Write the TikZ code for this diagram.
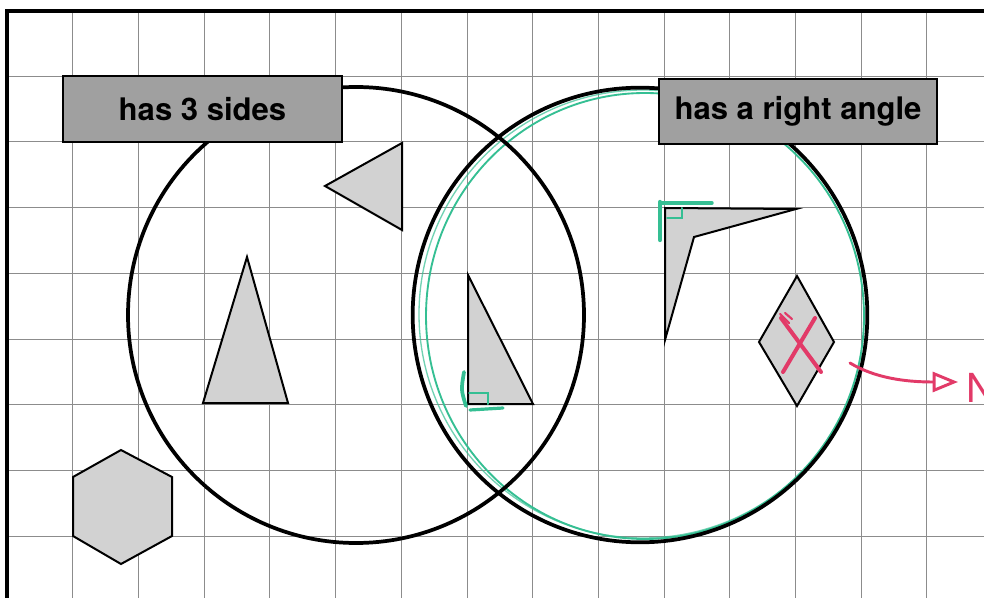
\documentclass[tikz,border=0pt]{standalone}
\usepackage{fontspec}
\setmainfont{TeX Gyre Heros}
\usetikzlibrary{arrows.meta}
\definecolor{boxgray}{HTML}{A0A0A0}
\definecolor{figgray}{HTML}{D2D2D2}
\definecolor{gridgray}{HTML}{8C8C8C}
\definecolor{markgreen}{HTML}{35BF93}
\definecolor{penred}{HTML}{E23A68}
\begin{document}
\begin{tikzpicture}[x=0.75pt,y=-0.75pt,
  gridline/.style={gridgray, line width=0.6pt},
  borderline/.style={black, line width=2.4pt},
  venn/.style={circle, draw=black, line width=2.8pt, inner sep=0pt},
  tagbox/.style={draw=black, line width=1.4pt, fill=boxgray, inner sep=0pt,
    font=\fontsize{23.3}{28}\selectfont\bfseries},
  figfill/.style={draw=black, fill=figgray, line width=1.5pt, line join=miter},
  greenpen/.style={markgreen, line width=1.6pt, line cap=round},
  redpen/.style={penred, line width=2.2pt, line cap=round}]
\clip (0,0) rectangle (984,598);
\fill[white] (0,0) rectangle (984,598);
% grid
\foreach \k in {1,...,14} \draw[gridline] ({7+65.7*\k},11) -- ({7+65.7*\k},598);
\foreach \k in {1,...,8} \draw[gridline] (7,{10.5+65.7*\k}) -- (984,{10.5+65.7*\k});
\draw[borderline] (7,598) -- (7,11) -- (984,11);
% shapes
\draw[figfill] (402,143) -- (325,186) -- (402,230) -- cycle;
\draw[figfill] (203,403) -- (288,403) -- (247,257) -- cycle;
\draw[figfill] (468,275) -- (468,404) -- (533,404) -- cycle;
\draw[figfill] (665,208) -- (796,209) -- (694,237) -- (665,340) -- cycle;
\draw[figfill] (797,276) -- (834,342) -- (797,406) -- (759,342) -- cycle;
\draw[figfill] (121,450) -- (172,477) -- (172,536) -- (121,564) -- (73,536) -- (73,477) -- cycle;
% green hand-drawn circle
\draw[greenpen, line width=1.4pt] (645,316) ellipse [x radius=219, y radius=223];
\draw[greenpen, line width=1.0pt, opacity=0.7] (643,314) ellipse [x radius=224, y radius=224];
% venn circles
\node[venn, minimum size=342pt] (left) at (356,315) {};
\node[venn, minimum size=341pt] (right) at (640,315) {};
% labels
\node[tagbox, minimum width=209.25pt, minimum height=49.5pt] (t3) at (202.5,109) {has 3 sides};
\node[tagbox, minimum width=208.5pt, minimum height=48.75pt] (tr) at (798,111.5) {has a right angle};
% green right-angle marks
\draw[greenpen, line width=2.8pt] (464,372) .. controls (461,390) .. (466,406);
\draw[greenpen, line width=2.4pt] (470,410) -- (503,408);
\draw[greenpen, line width=1.5pt] (469,393) -- (488,393) -- (488,404);
\draw[greenpen, line width=3.2pt] (660,202) -- (660,240);
\draw[greenpen, line width=2.6pt] (660,203) -- (712,203);
\draw[greenpen, line width=1.5pt] (667,218) -- (682,218) -- (682,208);
% red cross
\draw[redpen, line width=3pt] (781,318) -- (821,372);
\draw[redpen, line width=3pt] (815,318) -- (783,372);
\draw[redpen, line width=1.6pt] (780,314) -- (789,323) (785,313) -- (792,319);
% red arrow
\coordinate (as) at (850,363);
\coordinate (ae) at (958,382);
\draw[redpen, -{Triangle[open, length=19pt, width=15pt]}] (as) .. controls (875,378) and (905,382) .. (ae);
\node[penred, anchor=west, inner sep=0pt, font=\fontsize{30}{32}\selectfont] (nn) at (966,388) {N};
\end{tikzpicture}
\end{document}
